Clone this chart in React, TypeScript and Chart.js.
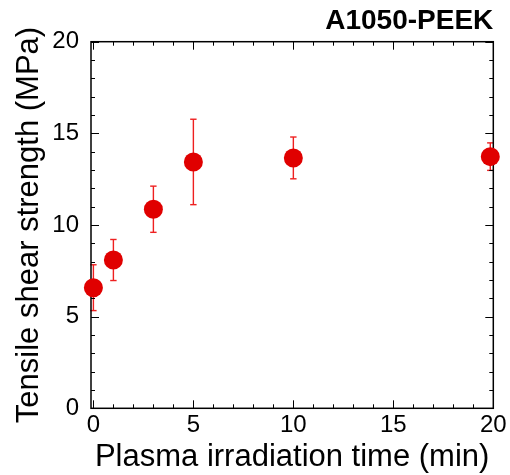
import React, { useEffect, useRef } from "react";
import { Chart, registerables } from "chart.js";

Chart.register(...registerables);

const times = [0, 1, 3, 5, 10, 19.85];
const strength = [6.58, 8.09, 10.86, 13.44, 13.66, 13.73];
const errors = [1.25, 1.12, 1.26, 2.33, 1.14, 0.75];
const xMajorTicks = [0, 5, 10, 15, 20];
const yMajorTicks = [0, 5, 10, 15, 20];
const minorStep = 1;
const chartTitle = "A1050-PEEK";
const xTitle = "Plasma irradiation time (min)";
const yTitle = "Tensile shear strength (MPa)";

const RED = "#e00000";
const BAR_RED = "#ee2020";
const FONT = "'Liberation Sans', Arial, Helvetica, sans-serif";

const framePlugin = {
  id: "frameTicksErrors",
  beforeDatasetsDraw(chart: any) {
    const { ctx, chartArea: a, scales } = chart;
    const x = scales.x;
    const y = scales.y;
    ctx.save();
    // error bars
    ctx.fillStyle = BAR_RED;
    times.forEach((t, i) => {
      const px = x.getPixelForValue(t);
      const top = y.getPixelForValue(strength[i] + errors[i]);
      const bot = y.getPixelForValue(strength[i] - errors[i]);
      ctx.fillRect(px - 0.7, top, 1.4, bot - top);
      ctx.fillRect(px - 3.2, top - 0.7, 6.4, 1.4);
      ctx.fillRect(px - 3.2, bot - 0.7, 6.4, 1.4);
    });
    // ticks
    ctx.strokeStyle = "#000";
    ctx.lineWidth = 1;
    const xmin = xMajorTicks[0];
    const xmax = xMajorTicks[xMajorTicks.length - 1];
    for (let v = xmin; v <= xmax + 1e-9; v += minorStep) {
      const len = xMajorTicks.includes(v) ? 8 : 4;
      const px = Math.round(x.getPixelForValue(v)) + 0.5;
      ctx.beginPath();
      ctx.moveTo(px, a.bottom);
      ctx.lineTo(px, a.bottom - len);
      ctx.moveTo(px, a.top);
      ctx.lineTo(px, a.top + len);
      ctx.stroke();
    }
    const ymin = yMajorTicks[0];
    const ymax = yMajorTicks[yMajorTicks.length - 1];
    for (let v = ymin; v <= ymax + 1e-9; v += minorStep) {
      const len = yMajorTicks.includes(v) ? 8 : 4;
      const py = Math.round(y.getPixelForValue(v)) + 0.5;
      ctx.beginPath();
      ctx.moveTo(a.left, py);
      ctx.lineTo(a.left + len, py);
      ctx.moveTo(a.right, py);
      ctx.lineTo(a.right - len, py);
      ctx.stroke();
    }
    // frame
    ctx.lineWidth = 1.5;
    ctx.strokeRect(a.left, a.top, a.right - a.left, a.bottom - a.top);
    ctx.restore();
  },
};

export default function App() {
  const ref = useRef<HTMLCanvasElement | null>(null);

  useEffect(() => {
    if (!ref.current) return;
    const chart = new Chart(ref.current, {
      type: "scatter",
      data: {
        datasets: [
          {
            data: times.map((t, i) => ({ x: t, y: strength[i] })),
            backgroundColor: RED,
            borderColor: RED,
            borderWidth: 0,
            pointRadius: 9.5,
            pointHoverRadius: 9.5,
            clip: false as any,
          },
        ],
      },
      options: {
        responsive: false,
        animation: false,
        devicePixelRatio: 1,
        layout: { padding: { left: 0, right: 16.7, top: 0, bottom: 0 } },
        plugins: {
          legend: { display: false },
          tooltip: { enabled: false },
          title: {
            display: true,
            text: chartTitle,
            align: "end",
            color: "#000",
            font: { family: FONT, size: 28, weight: "bold", lineHeight: 1.2 },
            padding: { top: 4.9, bottom: 3.2 },
          },
        },
        scales: {
          x: {
            type: "linear",
            min: -0.12,
            max: 20,
            grid: { display: false, drawTicks: false },
            border: { display: false },
            afterBuildTicks: (s: any) => {
              s.ticks = xMajorTicks.map((v) => ({ value: v }));
            },
            afterFit: (s: any) => {
              s.height = 66.7;
            },
            ticks: {
              color: "#000",
              padding: 3,
              maxRotation: 0,
              font: { family: FONT, size: 24 },
            },
            title: {
              display: true,
              text: xTitle,
              color: "#000",
              font: { family: FONT, size: 31, lineHeight: 1.1 },
              padding: { top: 0, bottom: 0 },
            },
          },
          y: {
            type: "linear",
            min: 0,
            max: 20,
            grid: { display: false, drawTicks: false },
            border: { display: false },
            afterBuildTicks: (s: any) => {
              s.ticks = yMajorTicks.map((v) => ({ value: v }));
            },
            afterFit: (s: any) => {
              s.width = 91;
            },
            ticks: {
              color: "#000",
              padding: 12,
              font: { family: FONT, size: 24 },
            },
            title: {
              display: true,
              text: yTitle,
              color: "#000",
              font: { family: FONT, size: 31, lineHeight: 1.2 },
              padding: { top: 10.6, bottom: 0 },
            },
          },
        },
      },
      plugins: [framePlugin],
    });
    return () => chart.destroy();
  }, []);

  return (
    <div style={{ position: "fixed", left: 0, top: 0, width: 510, height: 475, background: "#fff" }}>
      <canvas ref={ref} width={510} height={475} style={{ width: 510, height: 475, display: "block" }} />
    </div>
  );
}
